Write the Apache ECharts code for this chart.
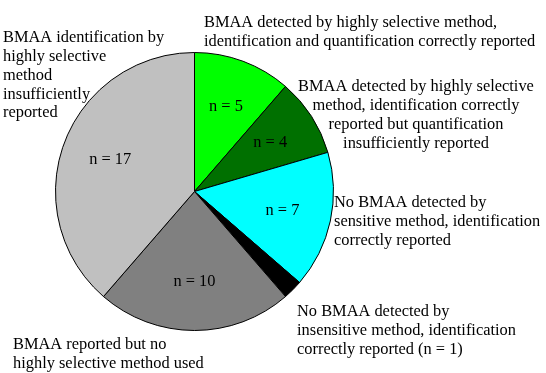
<!DOCTYPE html>
<html>
<head>
<meta charset="utf-8">
<script src="https://cdn.jsdelivr.net/npm/echarts@6/dist/echarts.min.js"></script>
<style>html,body{margin:0;padding:0;background:#fff;}#c{width:546px;height:373px;}</style>
</head>
<body>
<div id="c"></div>
<script>
var categories = [
  "BMAA detected by highly selective method,\nidentification and quantification correctly reported",
  "BMAA detected by highly selective\nmethod, identification correctly\nreported but quantification\ninsufficiently reported",
  "No BMAA detected by\nsensitive method, identification\ncorrectly reported",
  "No BMAA detected by\ninsensitive method, identification\ncorrectly reported (n = 1)",
  "BMAA reported but no\nhighly selective method used",
  "BMAA identification by\nhighly selective\nmethod\ninsufficiently\nreported"
];
var counts = [5, 4, 7, 1, 10, 17];
var colors = ["#00FF00", "#007000", "#00FFFF", "#000000", "#808080", "#C0C0C0"];

var FONT = '"Liberation Serif", "Times New Roman", serif';
var FS = 16.4;
var LH = 18.8;

var chart = echarts.init(document.getElementById('c'), null, {renderer: 'canvas'});

var mainData = categories.map(function (n, i) {
  return {name: n, value: counts[i], itemStyle: {color: colors[i]}};
});
var labelData = categories.map(function (n, i) {
  return {name: n, value: counts[i], label: {show: counts[i] > 1}};
});

// outer label blocks: [index, x, top, align]
var outer = [
  [0, 204, 13.5, 'left'],
  [1, 416, 77.5, 'center'],
  [2, 334, 193.5, 'left'],
  [3, 297, 302.5, 'left'],
  [4, 13, 335.5, 'left'],
  [5, 3, 28.5, 'left']
];

chart.setOption({
  backgroundColor: '#ffffff',
  animation: false,
  series: [
    {
      type: 'pie',
      center: [194.5, 191.5],
      radius: [0, 139],
      startAngle: 90,
      clockwise: true,
      avoidLabelOverlap: false,
      label: {show: false},
      labelLine: {show: false},
      itemStyle: {borderColor: '#000', borderWidth: 1},
      emphasis: {disabled: true},
      data: mainData
    },
    {
      type: 'pie',
      silent: true,
      center: [194.5, 191.5],
      radius: [0, 174],
      startAngle: 90,
      clockwise: true,
      avoidLabelOverlap: false,
      itemStyle: {color: 'rgba(0,0,0,0)', borderWidth: 0},
      label: {
        show: true,
        position: 'inside',
        formatter: function (p) { return 'n = ' + p.value; },
        fontFamily: FONT,
        fontSize: FS,
        color: '#000'
      },
      labelLine: {show: false},
      emphasis: {disabled: true},
      data: labelData
    }
  ],
  graphic: outer.map(function (o) {
    return {
      type: 'text',
      x: o[1],
      y: o[2],
      silent: true,
      style: {
        text: categories[o[0]],
        font: FS + 'px ' + FONT,
        lineHeight: LH,
        fill: '#000',
        align: o[3],
        verticalAlign: 'top'
      }
    };
  })
});
</script>
</body>
</html>
